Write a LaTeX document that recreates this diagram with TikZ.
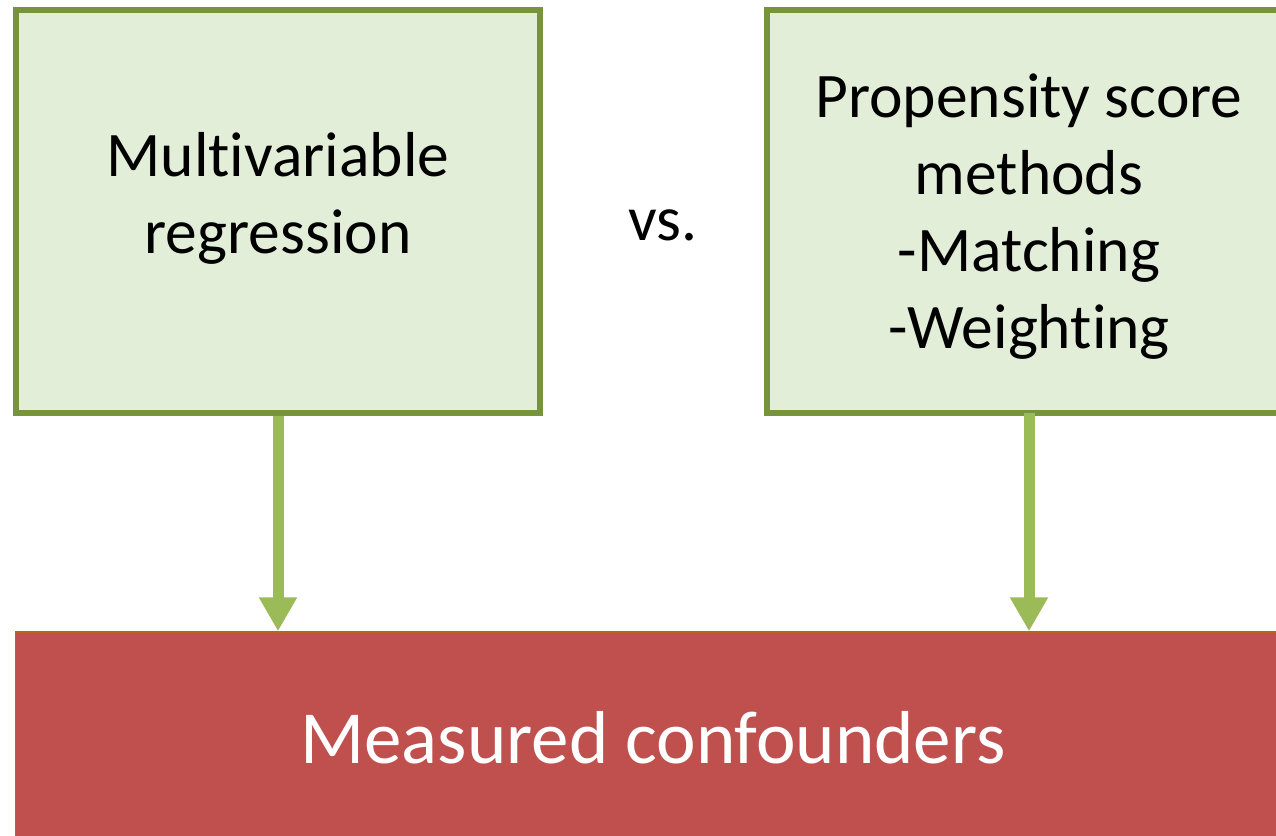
\documentclass[tikz,border=0pt]{standalone}
\usepackage{fontspec}
\setmainfont{Carlito}[RawFeature={-liga}]
\usetikzlibrary{arrows.meta}
\definecolor{gfill}{HTML}{E2EED8}
\definecolor{gborder}{HTML}{77933C}
\definecolor{arrowgreen}{HTML}{9BBB59}
\definecolor{redfill}{HTML}{C0504D}
\definecolor{redborder}{HTML}{B5651D}
\tikzset{
  gbox/.style={draw=gborder, fill=gfill, line width=6pt, inner sep=0pt},
  redbox/.style={draw=redborder, fill=redfill, line width=1.5pt, inner sep=0pt},
  txt/.style={inner sep=0pt, align=center, font=\fontsize{63.5}{77}\selectfont},
  bigtxt/.style={inner sep=0pt, text=white, font=\fontsize{75}{90}\selectfont},
  conn/.style={draw=arrowgreen, line width=11pt, line cap=butt,
    -{Triangle[width=36pt, length=34pt]}}
}
\begin{document}
\begin{tikzpicture}[x=1pt, y=-1pt]
  \useasboundingbox (0,0) rectangle (1276,835);
  \clip (0,0) rectangle (1276,835);
  % boxes
  \node[gbox, minimum width=524pt, minimum height=403pt] (left) at (278,211.5) {};
  \node[gbox, minimum width=523pt, minimum height=403pt] (right) at (1028.5,211.5) {};
  \node[redbox, minimum width=1275pt, minimum height=220pt] (red) at (653,742) {};
  % texts
  \node[txt, anchor=base] (lefttxt) at (278,253) {Multivariable\\regression};
  \node[txt, anchor=base] (vs) at (663,240) {vs.};
  \node[txt, anchor=base] (righttxt) at (1029,348) {Propensity score\\methods\\-Matching\\-Weighting};
  \node[bigtxt, anchor=base] (meas) at (653,763) {Measured confounders};
  % connectors
  \draw[conn] (left.south) -- (left.south |- red.north);
  \draw[conn] (1029,413) coordinate (rs) -- (rs |- red.north);
\end{tikzpicture}
\end{document}
